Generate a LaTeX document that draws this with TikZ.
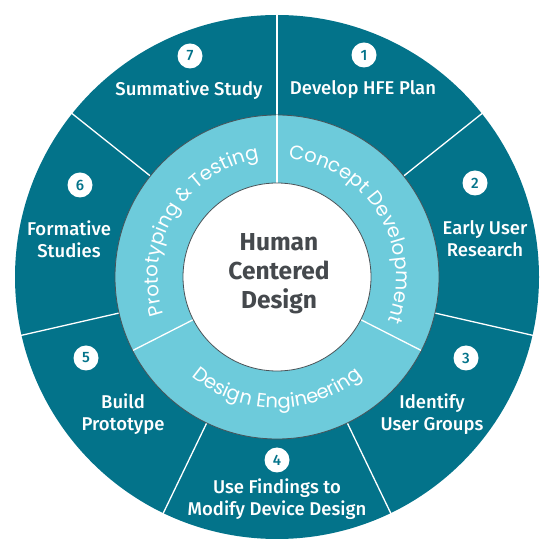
\documentclass[tikz,border=0pt]{standalone}
\usepackage{fontspec}
\setmainfont{Fira Sans}
\newfontfamily\labelfont{Fira Sans Medium}
\newfontfamily\ringfont{Poppins}
\usetikzlibrary{decorations.text}
\definecolor{darkteal}{HTML}{03738A}
\definecolor{lightring}{HTML}{6DCBDB}
\definecolor{ringedge}{HTML}{4A5358}
\definecolor{centertext}{HTML}{45494D}
\tikzset{
  steplabel/.style={text=white, align=center, font=\labelfont\fontsize{18.5}{22}\selectfont},
  numbadge/.style={circle, fill=white, minimum size=25pt, inner sep=0pt, text=darkteal, font=\labelfont\fontsize{15}{15}\selectfont},
  divider/.style={white, line width=1.3pt},
  ringtext/.style={decorate, decoration={text along path, text align=center, text color=white}}
}
\begin{document}
\begin{tikzpicture}[x=1pt,y=1pt]
\useasboundingbox (0,0) rectangle (554,554);
\begin{scope}[shift={(277,277)}]
  % outer ring
  \fill[darkteal] (0,0) circle (262);
  \foreach \k in {0,...,6} {
    \draw[divider] (90-\k*360/7:160) -- (90-\k*360/7:263);
  }
  % middle ring
  \fill[lightring, draw=ringedge, line width=0.8pt] (0,0) circle (162);
  \foreach \a in {90,-27,207} {
    \draw[divider] (\a:94) -- (\a:161.5);
  }
  \fill[white, draw=ringedge, line width=0.8pt] (0,0) circle (94);
  % ring texts
  \path[ringtext, decoration={text={|\ringfont\fontsize{19.5}{19.5}\selectfont|Concept Development}}]
    (90:119) arc (90:-27:119);
  \path[ringtext, decoration={text={|\ringfont\fontsize{19.5}{19.5}\selectfont|Prototyping {\&} Testing}}]
    (207:119) arc (207:90:119);
  \path[ringtext, decoration={text={|\ringfont\fontsize{19.5}{19.5}\selectfont|Design Engineering}}]
    (207:131) arc (207:333:131);
\end{scope}
% center
\node[align=center, text=centertext, font=\bfseries\fontsize{24.5}{29}\selectfont] (center) at (279,280) {Human\\Centered\\Design};
% badges
\node[numbadge] (n1) at (364,499) {1};
\node[numbadge] (n2) at (475,371) {2};
\node[numbadge] (n3) at (466,196) {3};
\node[numbadge] (n4) at (277,94) {4};
\node[numbadge] (n5) at (86,196) {5};
\node[numbadge] (n6) at (80,369) {6};
\node[numbadge] (n7) at (190,498) {7};
% labels
\node[steplabel] (l1) at (363,464) {Develop HFE Plan};
\node[steplabel] (l2) at (485,315) {Early User\\Research};
\node[steplabel] (l3) at (432,140) {Identify\\User Groups};
\node[steplabel] (l4) at (277,55) {Use Findings to\\Modify Device Design};
\node[steplabel] (l5) at (123,140) {Build\\Prototype};
\node[steplabel] (l6) at (69,315) {Formative\\Studies};
\node[steplabel] (l7) at (189,464) {Summative Study};
\end{tikzpicture}
\end{document}
